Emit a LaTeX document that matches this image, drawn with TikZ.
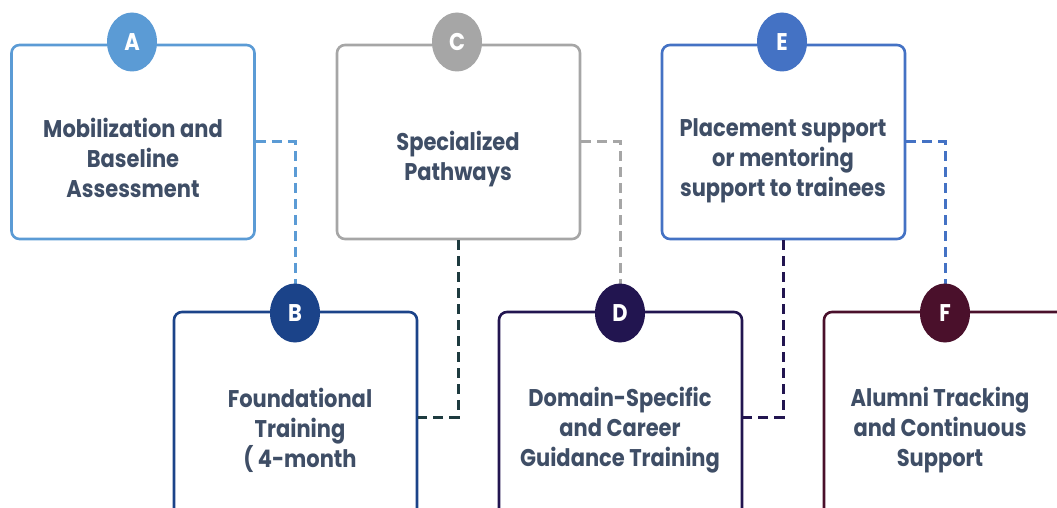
\documentclass[tikz,border=0pt]{standalone}
\usepackage{fontspec}
\setmainfont{Poppins}
\usetikzlibrary{shapes.geometric}
\definecolor{cA}{HTML}{5B9BD5}
\definecolor{cB}{HTML}{1B4389}
\definecolor{cC}{HTML}{A6A6A6}
\definecolor{cD}{HTML}{221550}
\definecolor{cE}{HTML}{4472C4}
\definecolor{cF}{HTML}{4A102B}
\definecolor{lnBC}{HTML}{1E3B3F}
\definecolor{txt}{HTML}{3F4E66}
\begin{document}
\begin{tikzpicture}[x=1pt,y=-1pt,
  card/.style={draw=#1, line width=2.6pt, rounded corners=8pt, fill=white,
    minimum width=243pt, inner sep=0pt},
  topcard/.style={card=#1, minimum height=194pt},
  lowcard/.style={card=#1, minimum height=210pt},
  badge/.style={ellipse, fill=#1, minimum width=50pt, minimum height=59pt,
    inner sep=0pt},
  badgeletter/.style={text=white, inner sep=0pt, yscale=1.15, transform shape,
    font=\bfseries\fontsize{21}{24}\selectfont},
  caption/.style={align=center, text=txt, inner sep=0pt,
    yscale=1.15, transform shape,
    font=\bfseries\fontsize{21}{26}\selectfont},
  connector/.style={draw=#1, line width=3pt, dash pattern=on 10pt off 6pt}]
\clip (0,0) rectangle (1057,508);

% cards
\node[topcard=cA] (boxA) at (133,142) {};
\node[topcard=cC] (boxC) at (458.5,142) {};
\node[topcard=cE] (boxE) at (783.5,142) {};
\node[lowcard=cB] (boxB) at (295.5,417) {};
\node[lowcard=cD] (boxD) at (620.5,417) {};
\node[lowcard=cF] (boxF) at (945.5,417) {};

% card texts
\node[caption] (tA) at (133,158) {Mobilization and\\Baseline\\Assessment};
\node[caption] (tC) at (458,159) {Specialized\\Pathways};
\node[caption] (tE) at (783,161) {Placement support\\or mentoring\\support to trainees};
\node[caption] (tB) at (300,430) {Foundational\\Training\\( 4-month};
\node[caption] (tD) at (620,430) {Domain-Specific\\and Career\\Guidance Training};
\node[caption] (tF) at (940,430) {Alumni Tracking\\and Continuous\\Support};

% dashed links between the cards
\draw[connector=cA] (boxA.east) -| (295,300);
\draw[connector=cC] (boxC.east) -| (620,300);
\draw[connector=cE] (boxE.east) -| (945,300);
\draw[connector=lnBC] (boxC.south) |- (boxB.east);
\draw[connector=cD] (boxE.south) |- (boxD.east);

% badges
\node[badge=cA] (cirA) at (132,42) {};
\node[badge=cC] (cirC) at (457,42) {};
\node[badge=cE] (cirE) at (782,42) {};
\node[badge=cB] (cirB) at (295,313) {};
\node[badge=cD] (cirD) at (620,313) {};
\node[badge=cF] (cirF) at (945,313) {};
\foreach \c/\l in {cirA/A,cirB/B,cirC/C,cirD/D,cirE/E,cirF/F}
  \node[badgeletter] (l\l) at (\c.center) {\l};
\end{tikzpicture}
\end{document}
